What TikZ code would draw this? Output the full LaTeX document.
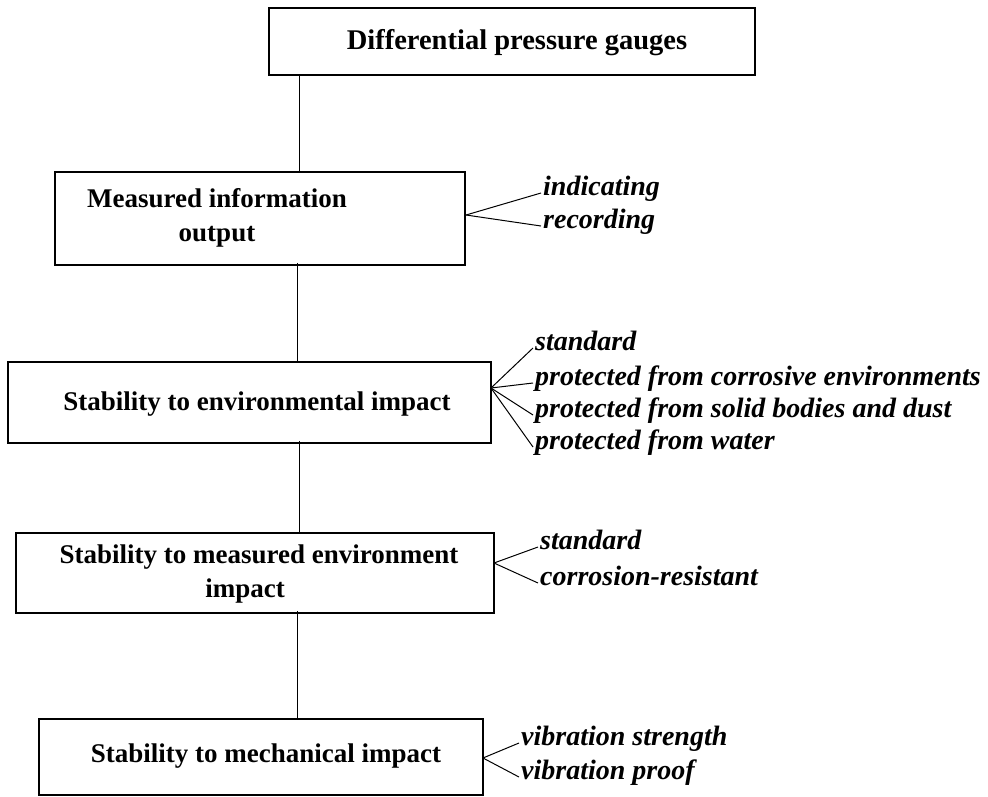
\documentclass[tikz,border=0pt]{standalone}
\usepackage{fontspec}
\setmainfont{Liberation Serif}
\begin{document}
\begin{tikzpicture}[x=1pt,y=-1pt,
  box/.style={draw, line width=1.5pt, rectangle, inner sep=0pt},
  boxtext/.style={font=\fontsize{27}{34}\selectfont\bfseries, align=center, inner sep=0pt},
  branch/.style={font=\fontsize{28}{32}\selectfont\bfseries\itshape, anchor=west, inner xsep=2pt, inner ysep=0pt, text height=0.62em, text depth=0.2em},
  link/.style={line width=1pt}]
\useasboundingbox (0,0) rectangle (988,796);
% boxes
\node[box, minimum width=486pt, minimum height=67pt] (b1) at (512,41.5) {};
\node[box, minimum width=410pt, minimum height=93pt] (b2) at (260,218.5) {};
\node[box, minimum width=483pt, minimum height=81pt] (b3) at (249.5,402.5) {};
\node[box, minimum width=478pt, minimum height=80pt] (b4) at (255,573) {};
\node[box, minimum width=444pt, minimum height=76pt] (b5) at (261,757) {};
% box texts
\node[boxtext, font=\fontsize{28.5}{34}\selectfont\bfseries] (t1) at (517,43) {Differential pressure gauges};
\node[boxtext] (t2) at (217,218) {Measured information\\output};
\node[boxtext] (t3) at (257,404) {Stability to environmental impact};
\node[boxtext] (t4) at (259,574) {Stability to measured environment\\impact\rule{28pt}{0pt}};
\node[boxtext] (t5) at (266,756) {Stability to mechanical impact};
% spine
\coordinate (s1) at (299,0);
\coordinate (s2) at (297,0);
\draw[link] (b1.south -| s1) -- (b2.north -| s1);
\draw[link] ([yshift=3pt]b2.south -| s2) -- (b3.north -| s2);
\draw[link] ([yshift=3pt]b3.south -| s1) -- (b4.north -| s1);
\draw[link] ([yshift=3pt]b4.south -| s2) -- (b5.north -| s2);
% branches
\coordinate (o2) at (466,215);
\node[branch] (i1) at (541,193) {indicating};
\node[branch] (i2) at (541,226) {recording};
\draw[link] (o2) -- (i1.west);
\draw[link] (o2) -- (i2.west);
\coordinate (o3) at (491,388);
\node[branch] (e1) at (533,348) {standard};
\node[branch] (e2) at (533,383) {protected from corrosive environments};
\node[branch] (e3) at (533,415) {protected from solid bodies and dust};
\node[branch] (e4) at (533,447) {protected from water};
\draw[link] (o3) -- (e1.west);
\draw[link] (o3) -- (e2.west);
\draw[link] (o3) -- (e3.west);
\draw[link] (o3) -- (e4.west);
\coordinate (o4) at (494,563);
\node[branch] (m1) at (538,547) {standard};
\node[branch] (m2) at (538,583) {corrosion-resistant};
\draw[link] (o4) -- (m1.west);
\draw[link] (o4) -- (m2.west);
\coordinate (o5) at (483,758);
\node[branch] (v1) at (519,743) {vibration strength};
\node[branch] (v2) at (519,777) {vibration proof};
\draw[link] (o5) -- (v1.west);
\draw[link] (o5) -- (v2.west);
\end{tikzpicture}
\end{document}
